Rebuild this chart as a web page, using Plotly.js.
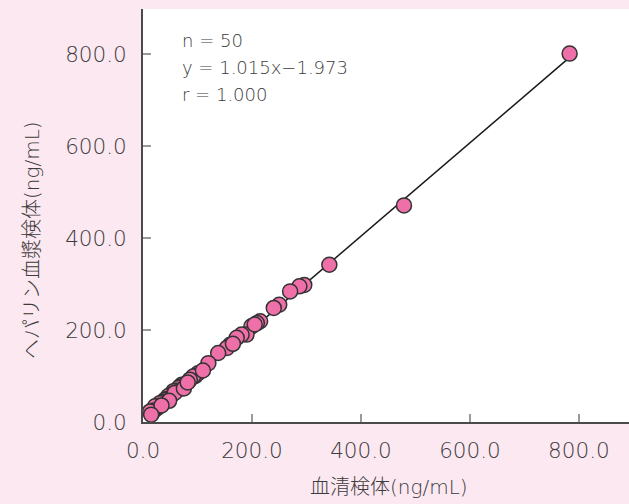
<!DOCTYPE html>
<html>
<head>
<meta charset="utf-8">
<script src="https://cdn.plot.ly/plotly-3.0.1.min.js"></script>
<style>html,body{margin:0;padding:0;background:#fce8f1;}</style>
</head>
<body>
<div id="chart" style="width:629px;height:504px;"></div>
<script>
// serum sample (x) vs heparin plasma sample (y), ng/mL
const serum = [783, 479, 342, 296, 287, 270, 250, 240, 215, 209,
               199, 190, 181, 172, 160, 154, 138, 120, 101, 96,
               92, 86, 71, 68, 65, 62, 56, 53, 50, 46,
               44, 40, 38, 36, 31, 29, 26, 22, 20, 17,
               13, 58, 75, 82, 110, 165, 205, 48, 34, 15];
const plasma = [801, 471, 342, 298, 295, 284, 255, 248, 219, 215,
                208, 190, 190, 183, 168, 161, 150, 128, 106, 100,
                99, 92, 81, 77, 74, 68, 67, 60, 55, 56,
                50, 48, 44, 43, 41, 35, 30, 34, 25, 20,
                23, 63, 73, 86, 112, 170, 212, 46, 36, 16];
const slope = 1.015, intercept = -1.973;
const statLines = ["n = 50", "y = 1.015x\u22121.973", "r = 1.000"];
const xTicks = [0, 200, 400, 600, 800];
const yTicks = [0, 200, 400, 600, 800];
const tickText = v => v.toFixed(1);

const xmin = Math.min(...serum), xmax = Math.max(...serum);
const font = "'DejaVu Sans', 'Noto Sans CJK JP', sans-serif";
const grey = '#3c3c3c';

const data = [
  {x: [xmin, xmax], y: [slope*xmin + intercept, slope*xmax + intercept],
   mode: 'lines', line: {color: '#1a1a1a', width: 1.5}, hoverinfo: 'skip'},
  {x: serum, y: plasma, mode: 'markers',
   marker: {size: 15, color: '#ef6fa9', line: {color: '#333333', width: 1.5}}}
];

const annotations = statLines.map((t, i) => ({
  xref: 'paper', yref: 'paper', x: 37/486, y: 1 - (40 + i*27.3 - 9)/413,
  xanchor: 'left', yanchor: 'middle', text: t, showarrow: false,
  font: {family: font, size: 18, color: grey, weight: 200}
}));
annotations.push({
  xref: 'paper', yref: 'paper', x: (389-143)/486, y: -(487-422)/413,
  xanchor: 'center', yanchor: 'middle', text: '血清検体(ng/mL)', showarrow: false,
  font: {family: font, size: 20, color: grey, weight: 200}
});
annotations.push({
  xref: 'paper', yref: 'paper', x: -(143-32)/486, y: (422-240)/413,
  xanchor: 'center', yanchor: 'middle', text: 'ヘパリン血漿検体(ng/mL)', showarrow: false,
  textangle: -90, font: {family: font, size: 20, color: grey, weight: 200}
});

const layout = {
  width: 629, height: 504,
  paper_bgcolor: '#fce8f1', plot_bgcolor: '#ffffff',
  margin: {l: 143, r: 0, t: 9, b: 82},
  showlegend: false,
  font: {family: font, color: grey},
  xaxis: {range: [0, 892], showgrid: false, zeroline: false,
          showline: true, linecolor: '#4a4a4a', linewidth: 2,
          ticks: 'inside', ticklen: 8, tickwidth: 2, tickcolor: '#999',
          tickvals: xTicks, ticktext: xTicks.map(tickText),
          tickfont: {family: font, size: 21.5, color: grey, weight: 200}, ticklabelstandoff: 8},
  yaxis: {range: [0, 898], showgrid: false, zeroline: false,
          showline: true, linecolor: '#4a4a4a', linewidth: 2,
          ticks: 'inside', ticklen: 8, tickwidth: 2, tickcolor: '#999',
          tickvals: yTicks, ticktext: yTicks.map(tickText),
          tickfont: {family: font, size: 21.5, color: grey, weight: 200}, ticklabelstandoff: 10},
  annotations: annotations
};

Plotly.newPlot('chart', data, layout, {displayModeBar: false, staticPlot: true});
</script>
</body>
</html>
